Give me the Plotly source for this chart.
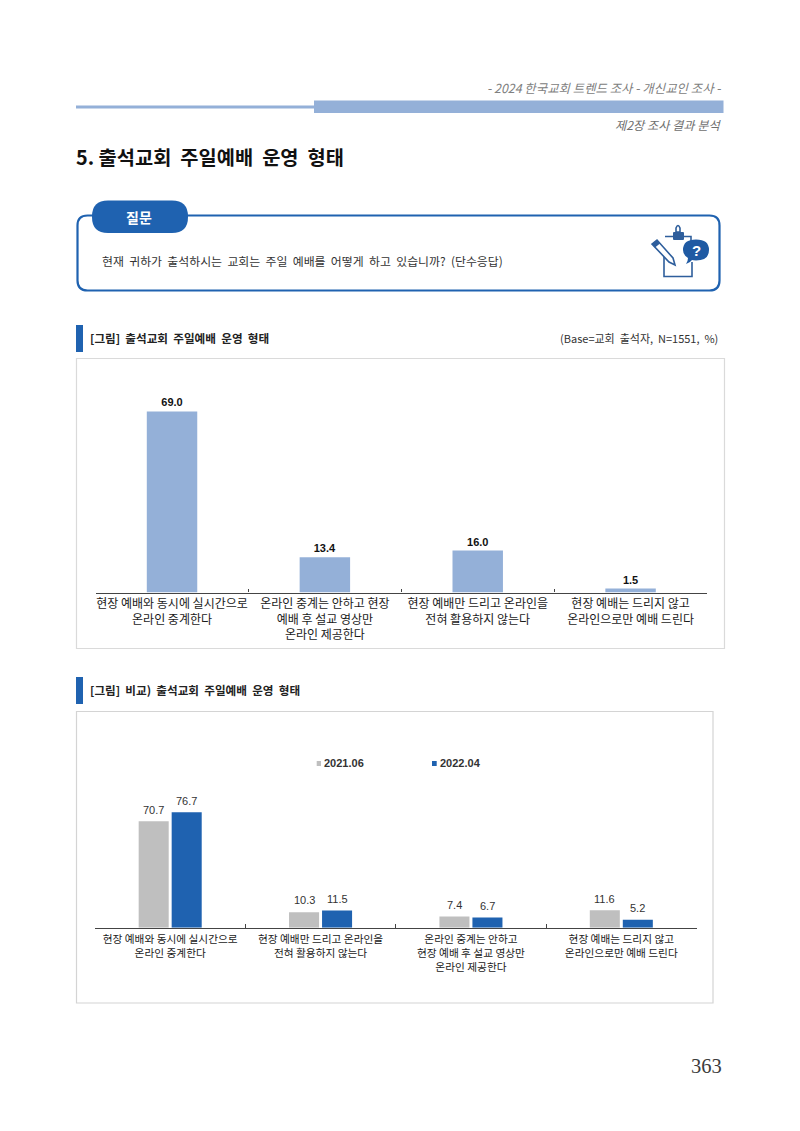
import re
import plotly.graph_objects as go

# Survey figures
cats_current = ["현장 예배와 동시에 실시간으로<br>온라인 중계한다",
                "온라인 중계는 안하고 현장<br>예배 후 설교 영상만<br>온라인 제공한다",
                "현장 예배만 드리고 온라인을<br>전혀 활용하지 않는다",
                "현장 예배는 드리지 않고<br>온라인으로만 예배 드린다"]
values_current = [69.0, 13.4, 16.0, 1.5]

cats_compare = ["현장 예배와 동시에 실시간으로<br>온라인 중계한다",
                "현장 예배만 드리고 온라인을<br>전혀 활용하지 않는다",
                "온라인 중계는 안하고<br>현장 예배 후 설교 영상만<br>온라인 제공한다",
                "현장 예배는 드리지 않고<br>온라인으로만 예배 드린다"]
values_2021 = [70.7, 10.3, 7.4, 11.6]
values_2022 = [76.7, 11.5, 6.7, 5.2]

W, H = 800, 1131
KR = "Noto Sans CJK KR"
LATIN = "Liberation Sans"
BLUE = "#1F62B0"
LIGHT = "#94B0D8"
GRAY = "#BFBFBF"
ICON = "#2E5E9C"
WIDE = "\u00a0\u00a0"


def px(x):
    return x / W


def py(y):
    return 1 - y / H


def rect(x0, y0, x1, y1, fill=None, line=None, width=1):
    return dict(type="rect", xref="paper", yref="paper",
                x0=px(x0), x1=px(x1), y0=py(y0), y1=py(y1),
                fillcolor=fill or "rgba(0,0,0,0)",
                line=dict(color=line or "rgba(0,0,0,0)", width=width if line else 0),
                layer="below")


def path(d, fill=None, line=None, width=1):
    # d is an SVG path written in page pixels; shapes take paper fractions
    tokens = re.findall(r"[MLQCZ]|-?\d+\.?\d*", d)
    out, is_x = [], True
    for t in tokens:
        if t.isalpha():
            out.append(t)
            is_x = True
        else:
            v = px(float(t)) if is_x else py(float(t))
            out.append(f"{v:.5f}")
            is_x = not is_x
    parts = []
    i = 0
    while i < len(out):
        if out[i].isalpha():
            parts.append(out[i])
            i += 1
        else:
            parts.append(out[i] + "," + out[i + 1])
            i += 2
    return dict(type="path", xref="paper", yref="paper", path=" ".join(parts),
                fillcolor=fill or "rgba(0,0,0,0)",
                line=dict(color=line or "rgba(0,0,0,0)", width=width if line else 0),
                layer="above")


def rounded(x0, y0, x1, y1, r):
    return (f"M{x0+r} {y0} L{x1-r} {y0} Q{x1} {y0} {x1} {y0+r} L{x1} {y1-r} "
            f"Q{x1} {y1} {x1-r} {y1} L{x0+r} {y1} Q{x0} {y1} {x0} {y1-r} "
            f"L{x0} {y0+r} Q{x0} {y0} {x0+r} {y0} Z")


def label(x, y, text, size=11, color="#2B2B2B", anchor="left", family=KR, bold=False, italic=False):
    return dict(xref="paper", yref="paper", x=px(x), y=py(y), text=f"<b>{text}</b>" if bold else text,
                showarrow=False, xanchor=anchor, yanchor="middle", borderpad=0, borderwidth=0,
                font=dict(family=family, size=size, color=color,
                          style="italic" if italic else "normal"))


shapes = [
    rect(76, 105.5, 314, 108.5, fill=LIGHT),
    rect(314, 100.5, 723.5, 113, fill=LIGHT),
    path(rounded(77.5, 215.5, 719.5, 290.5, 10), fill="white", line=BLUE, width=2.2),
    path(rounded(92, 200.5, 188, 233, 16), fill=BLUE),
    # clipboard outline, interrupted by the pencil and the bubble
    path("M664 249 L664 276.5 L692 276.5 L692 262 M665 236.5 L691 236.5 L691 241", line=ICON, width=1.6),
    path(rounded(673, 232, 684, 240, 1), fill=ICON),
    path("M676 232 L676 228 Q678 223 680 228 L680 232 Z", line=ICON, width=1.6),
    # pencil
    path("M652 244 L657 240 L673 258 L675 265 L669 262 Z", fill="white", line=ICON, width=1.6),
    path("M652 244 L657 240 L660 243.5 L655 247.5 Z", fill=ICON),
    # speech bubble
    path("M683 250 Q683 239.5 696 239.5 Q709 239.5 709 250 Q709 260.5 696 260.5 Q693 260.5 692 260 Q690 263 686 264 "
         "Q688 261 688 258 Q683 255 683 250 Z", fill="#1F5AA3"),
    # section markers and chart frames
    rect(76, 325, 83, 352, fill=BLUE),
    rect(76.5, 358.5, 724.5, 648.5, fill="white", line="#DADADA", width=1.2),
    rect(76, 677, 83, 704, fill=BLUE),
    rect(76.5, 711.5, 713, 1003, fill="white", line="#D4D4D4", width=1.2),
    # swatches of the series key
    rect(316.7, 761, 321, 766, fill=GRAY),
    rect(432, 761, 436.7, 766, fill=BLUE),
]

annotations = [
    label(721, 88, "- 2024 한국교회 트렌드 조사 - 개신교인 조사 -", size=12.4, color="#808080", anchor="right", italic=True),
    label(720.5, 125, "제2장 조사 결과 분석", size=12.2, color="#6E6E6E", anchor="right", italic=True),
    label(76, 156, f"5. 출석교회{WIDE}주일예배{WIDE}운영{WIDE}형태", size=19.8, color="#111111", bold=True),
    label(138.5, 216.7, "질문", size=14, color="white", anchor="center", bold=True),
    label(102, 260.5, "현재 귀하가 출석하시는 교회는 주일 예배를 어떻게 하고 있습니까? (단수응답)".replace(" ", WIDE),
          size=11.9, color="#333333"),
    label(696, 250, "?", size=15, color="white", anchor="center", family=LATIN, bold=True),
    label(89.5, 338, "[그림] 출석교회 주일예배 운영 형태".replace(" ", WIDE), size=11.6, color="#222222", bold=True),
    label(717.5, 338, "(Base=교회 출석자, N=1551, %)".replace(" ", WIDE), size=11, color="#333333", anchor="right"),
    label(89.5, 690, "[그림] 비교) 출석교회 주일예배 운영 형태".replace(" ", WIDE), size=11.6, color="#222222", bold=True),
    label(324, 763, "2021.06", size=11, color="#333333", family=LATIN, bold=True),
    label(440, 763, "2022.04", size=11, color="#333333", family=LATIN, bold=True),
    label(722, 1066, "363", size=20.5, color="#3C3C3C", anchor="right", family="Liberation Serif"),
]

# Value labels of the paired bars sit on the data axes, a fixed distance above each bar
for offset, series in ((-0.11, values_2021), (0.11, values_2022)):
    for i, v in enumerate(series):
        annotations.append(dict(
            xref="x2", yref="y2", x=i + offset, y=v, text=f"{v:.1f}", showarrow=False,
            xanchor="center", yanchor="middle", yshift=11.7, borderpad=0, borderwidth=0,
            font=dict(family=LATIN, size=11, color="#333333"),
        ))

fig = go.Figure()
fig.add_trace(go.Bar(
    x=cats_current, y=values_current, marker=dict(color=LIGHT, line_width=0),
    text=[f"{v:.1f}" for v in values_current], textposition="outside", cliponaxis=False,
    textfont=dict(family=LATIN, size=11, color="#111111", weight="bold"),
    width=0.33, xaxis="x", yaxis="y", showlegend=False,
))
fig.add_trace(go.Bar(
    name="2021.06", x=cats_compare, y=values_2021, marker=dict(color=GRAY, line_width=0),
    xaxis="x2", yaxis="y2", showlegend=False,
))
fig.add_trace(go.Bar(
    name="2022.04", x=cats_compare, y=values_2022, marker=dict(color=BLUE, line_width=0),
    xaxis="x2", yaxis="y2", showlegend=False,
))

xcommon = dict(type="category", tickson="boundaries", ticks="inside", tickwidth=1, tickangle=0,
               tickcolor="#444444", linecolor="#444444", linewidth=1.4, showgrid=False,
               automargin=False, fixedrange=True)
ycommon = dict(visible=False, showgrid=False, zeroline=False, fixedrange=True)

fig.update_layout(
    width=W, height=H, margin=dict(l=0, r=0, t=0, b=0, autoexpand=False),
    paper_bgcolor="white", plot_bgcolor="rgba(0,0,0,0)",
    barmode="group", bargap=0.561, bargroupgap=0.09,
    shapes=shapes, annotations=annotations,
    xaxis=dict(domain=[px(95.6), px(707)], anchor="y", ticklen=3, ticklabelstandoff=0,
               tickfont=dict(family=KR, size=12, color="#1A1A1A"), **xcommon),
    yaxis=dict(domain=[py(592.5), py(382.5)], range=[0, 80], anchor="x", **ycommon),
    xaxis2=dict(domain=[px(95), px(696.5)], anchor="y2", ticklen=4, ticklabelstandoff=1,
                tickfont=dict(family=KR, size=10.7, color="#1A1A1A"), **xcommon),
    yaxis2=dict(domain=[py(927.7), py(807.3)], range=[0, 80], anchor="x2", **ycommon),
)

fig.write_html("out.html")
